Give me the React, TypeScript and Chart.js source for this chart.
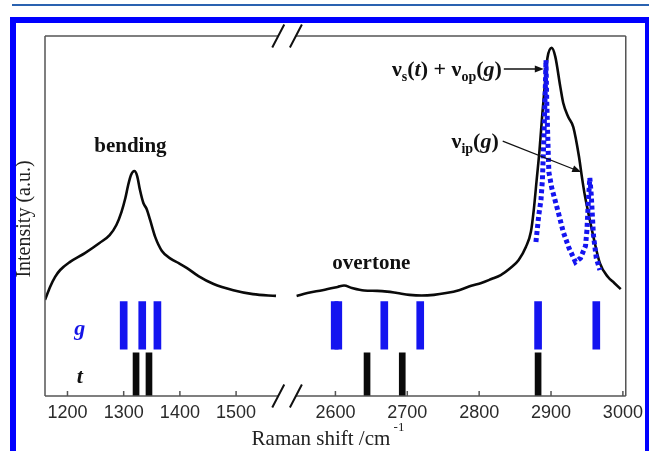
import React, { useEffect, useRef } from 'react';
import { Chart, registerables, LinearScale } from 'chart.js';

Chart.register(...registerables);

// ---------- axis definition (broken wavenumber axis) ----------
const X_MIN = 1160;
const X_MAX = 3004;
const BREAK_FROM = 1575;
const BREAK_TO = 2545;
const W_LEFT = 0.567; // relative px per cm-1, left segment
const W_GAP = 17.8; // relative width of the break
const W_RIGHT = 0.725; // relative px per cm-1, right segment
const X_TICKS = [1200, 1300, 1400, 1500, 2600, 2700, 2800, 2900, 3000];

// ---------- data ----------
// experimental spectrum, bending region
const bendWn = [1160, 1169, 1178, 1187, 1204, 1231, 1257, 1275, 1287, 1296, 1303, 1308, 1313, 1319, 1324, 1329, 1335, 1341, 1347, 1356, 1368, 1384, 1398, 1412, 1433, 1460, 1495, 1530, 1571];
const bendI = [26.7, 30.3, 33.1, 35.0, 37.2, 39.7, 42.5, 44.7, 47.5, 51.1, 55.0, 58.6, 61.4, 62.5, 61.1, 57.2, 53.6, 51.9, 48.9, 44.2, 40.3, 38.1, 36.9, 35.6, 33.3, 31.1, 29.4, 28.3, 27.8];
// experimental spectrum, overtone + CH stretching region
const stretchWn = [2546, 2561, 2582, 2603, 2612, 2623, 2640, 2658, 2672, 2686, 2703, 2720, 2737, 2754, 2772, 2789, 2803, 2817, 2830, 2844, 2855, 2865, 2872, 2876, 2880, 2884, 2888, 2892, 2895, 2901, 2906, 2913, 2917, 2924, 2931, 2939, 2943, 2947, 2952, 2959, 2968, 2979, 2988, 2997];
const stretchI = [27.8, 28.6, 29.4, 30.3, 30.7, 30.0, 29.3, 29.2, 29.0, 28.6, 28.1, 27.9, 28.1, 28.6, 29.4, 30.6, 31.4, 32.5, 33.6, 35.6, 37.8, 41.4, 45.6, 51.7, 60.0, 68.3, 78.6, 87.8, 93.9, 96.7, 94.2, 85.8, 81.4, 77.5, 74.7, 66.4, 60.8, 55.8, 50.8, 44.2, 36.9, 33.1, 31.4, 29.7];
// calculated spectrum (g conformer)
const calcWn = [2879, 2883, 2886, 2888, 2890, 2892, 2893, 2894, 2896, 2897, 2901, 2910, 2917, 2925, 2934, 2941, 2948, 2950, 2952, 2954, 2956, 2959, 2963, 2968];
const calcI = [42.8, 50.3, 54.4, 60.0, 71.1, 85.0, 93.3, 82.2, 68.3, 62.2, 57.8, 51.1, 45.6, 41.1, 37.2, 38.3, 41.7, 46.1, 54.4, 60.6, 55.8, 44.7, 38.3, 35.0];
// calculated mode positions
const gModes = [1300, 1333, 1360, 2599, 2604, 2668, 2718, 2882, 2963];
const tModes = [1322, 1345, 2644, 2693, 2882];
const G_SPAN: [number, number] = [13, 26.2];
const T_SPAN: [number, number] = [0, 12];

// ---------- custom broken linear scale ----------
function axisFraction(v: number): number {
  const wl = (BREAK_FROM - X_MIN) * W_LEFT;
  const wr = (X_MAX - BREAK_TO) * W_RIGHT;
  const tot = wl + W_GAP + wr;
  let p: number;
  if (v <= BREAK_FROM) p = (v - X_MIN) * W_LEFT;
  else if (v >= BREAK_TO) p = wl + W_GAP + (v - BREAK_TO) * W_RIGHT;
  else p = wl + ((v - BREAK_FROM) / (BREAK_TO - BREAK_FROM)) * W_GAP;
  return p / tot;
}

class BrokenAxis extends (LinearScale as any) {
  static id = 'brokenAxis';
  static defaults = { ...(LinearScale as any).defaults };
  buildTicks() {
    return X_TICKS.map((v) => ({ value: v }));
  }
  getPixelForValue(v: any) {
    if (v === null || v === undefined || isNaN(v)) return NaN;
    return (this as any).getPixelForDecimal(axisFraction(+v));
  }
  getValueForPixel(px: number) {
    const d = (this as any).getDecimalForPixel(px);
    let lo = X_MIN, hi = X_MAX;
    for (let i = 0; i < 40; i++) {
      const m = (lo + hi) / 2;
      if (axisFraction(m) < d) lo = m; else hi = m;
    }
    return (lo + hi) / 2;
  }
}
Chart.register(BrokenAxis as any);

const SERIF = "'Liberation Serif', 'Times New Roman', serif";
const SANS = "'Liberation Sans', Arial, sans-serif";

type Run = { t: string; f: string; dy?: number };
function drawRuns(ctx: CanvasRenderingContext2D, runs: Run[], x: number, y: number, align: 'left' | 'right' | 'center') {
  let total = 0;
  runs.forEach((r) => { ctx.font = r.f; total += ctx.measureText(r.t).width; });
  let cx = align === 'left' ? x : align === 'right' ? x - total : x - total / 2;
  ctx.textAlign = 'left';
  ctx.textBaseline = 'alphabetic';
  runs.forEach((r) => {
    ctx.font = r.f;
    ctx.fillText(r.t, cx, y + (r.dy || 0));
    cx += ctx.measureText(r.t).width;
  });
  return total;
}

function arrow(ctx: CanvasRenderingContext2D, x1: number, y1: number, x2: number, y2: number) {
  const ang = Math.atan2(y2 - y1, x2 - x1);
  const hl = 9, hw = 3.5;
  ctx.beginPath();
  ctx.moveTo(x1, y1);
  ctx.lineTo(x2 - Math.cos(ang) * hl * 0.8, y2 - Math.sin(ang) * hl * 0.8);
  ctx.stroke();
  ctx.beginPath();
  ctx.moveTo(x2, y2);
  ctx.lineTo(x2 - Math.cos(ang) * hl - Math.sin(ang) * hw, y2 - Math.sin(ang) * hl + Math.cos(ang) * hw);
  ctx.lineTo(x2 - Math.cos(ang) * hl + Math.sin(ang) * hw, y2 - Math.sin(ang) * hl - Math.cos(ang) * hw);
  ctx.closePath();
  ctx.fill();
}

const decorPlugin = {
  id: 'decor',
  afterDraw(chart: any) {
    const { ctx, chartArea: a, scales } = chart;
    const xs = scales.x, ys = scales.y;
    const gl = xs.getPixelForValue(BREAK_FROM);
    const gr = xs.getPixelForValue(BREAK_TO);
    ctx.save();
    // frame with break
    ctx.strokeStyle = '#555';
    ctx.lineWidth = 1.5;
    ctx.beginPath();
    [a.top, a.bottom].forEach((y: number) => {
      ctx.moveTo(a.left, y); ctx.lineTo(gl, y);
      ctx.moveTo(gr, y); ctx.lineTo(a.right, y);
    });
    ctx.moveTo(a.left, a.top); ctx.lineTo(a.left, a.bottom);
    ctx.moveTo(a.right, a.top); ctx.lineTo(a.right, a.bottom);
    ctx.stroke();
    // tick marks (inward)
    ctx.beginPath();
    xs.ticks.forEach((t: any) => {
      const px = xs.getPixelForValue(t.value);
      ctx.moveTo(px, a.bottom); ctx.lineTo(px, a.bottom - 5);
    });
    ctx.stroke();
    // break slashes
    ctx.strokeStyle = '#111';
    ctx.lineWidth = 2;
    ctx.beginPath();
    [a.top, a.bottom].forEach((y: number) => {
      [gl, gr].forEach((x: number) => {
        ctx.moveTo(x - 6, y + 11.5); ctx.lineTo(x + 6, y - 11.5);
      });
    });
    ctx.stroke();

    // axis titles
    ctx.fillStyle = '#222';
    ctx.save();
    ctx.translate(25, (a.top + a.bottom) / 2 + 3);
    ctx.rotate(-Math.PI / 2);
    ctx.font = `20px ${SERIF}`;
    ctx.textAlign = 'center';
    ctx.textBaseline = 'middle';
    ctx.fillText('Intensity (a.u.)', 0, 0);
    ctx.restore();
    drawRuns(ctx, [
      { t: 'Raman shift /cm', f: `21px ${SERIF}` },
      { t: ' -1', f: `13px ${SERIF}`, dy: -14 },
    ], 328, 445, 'center');

    // annotations
    ctx.fillStyle = '#111';
    ctx.font = `bold 21px ${SERIF}`;
    ctx.textAlign = 'center';
    ctx.textBaseline = 'middle';
    ctx.fillText('bending', xs.getPixelForValue(1312), ys.getPixelForValue(69.2));
    ctx.fillText('overtone', xs.getPixelForValue(2650), ys.getPixelForValue(36.9));

    const B = `bold 22px ${SERIF}`;
    const BI = `italic bold 22px ${SERIF}`;
    const SUB = `bold 14px ${SERIF}`;
    // nu_s(t) + nu_op(g)
    const y1 = ys.getPixelForValue(90.8);
    const x1end = xs.getPixelForValue(2890);
    drawRuns(ctx, [
      { t: 'ν', f: B }, { t: 's', f: SUB, dy: 5 }, { t: '(', f: B }, { t: 't', f: BI }, { t: ') + ', f: B },
      { t: 'ν', f: B }, { t: 'op', f: SUB, dy: 5 }, { t: '(', f: B }, { t: 'g', f: BI }, { t: ')', f: B },
    ], x1end - 42, y1 + 7, 'right');
    ctx.strokeStyle = '#111';
    ctx.lineWidth = 1.5;
    arrow(ctx, x1end - 40, y1, x1end, y1);
    // nu_ip(g)
    const y2 = ys.getPixelForValue(70.8);
    const x2 = xs.getPixelForValue(2830);
    drawRuns(ctx, [
      { t: 'ν', f: B }, { t: 'ip', f: SUB, dy: 5 }, { t: '(', f: B }, { t: 'g', f: BI }, { t: ')', f: B },
    ], x2 - 2, y2 + 7, 'right');
    ctx.lineWidth = 1.2;
    arrow(ctx, x2 + 2, y2, xs.getPixelForValue(2942), ys.getPixelForValue(62.2));

    // row labels
    ctx.font = `italic bold 22px ${SERIF}`;
    ctx.textAlign = 'center';
    ctx.textBaseline = 'middle';
    ctx.fillStyle = '#1414e6';
    ctx.fillText('g', xs.getPixelForValue(1222), ys.getPixelForValue(18.6));
    ctx.fillStyle = '#111';
    ctx.fillText('t', xs.getPixelForValue(1222), ys.getPixelForValue(5.3));
    ctx.restore();
  },
};

function pts(xs: number[], ys: number[]) {
  return xs.map((x, i) => ({ x, y: ys[i] }));
}

export default function App() {
  const ref = useRef<HTMLCanvasElement>(null);
  useEffect(() => {
    const spectrum = [...pts(bendWn, bendI), { x: 2000, y: null as any }, ...pts(stretchWn, stretchI)];
    const chart = new Chart(ref.current!, {
      type: 'line',
      data: {
        datasets: [
          {
            type: 'line',
            label: 'calc g',
            data: pts(calcWn, calcI),
            borderColor: '#1414f0',
            borderWidth: 5,
            borderDash: [4, 3],
            pointRadius: 0,
            tension: 0,
            fill: false,
          },
          {
            type: 'line',
            label: 'spectrum',
            data: spectrum,
            borderColor: '#0a0a0a',
            borderWidth: 2.6,
            pointRadius: 0,
            cubicInterpolationMode: 'monotone',
            spanGaps: false,
            fill: false,
          },
          {
            type: 'bar',
            label: 'g',
            data: gModes.map((x) => ({ x, y: G_SPAN })) as any,
            backgroundColor: '#1414f0',
            barThickness: 7,
            grouped: false,
          } as any,
          {
            type: 'bar',
            label: 't',
            data: tModes.map((x) => ({ x, y: T_SPAN })) as any,
            backgroundColor: '#0a0a0a',
            barThickness: 6,
            grouped: false,
          } as any,
        ],
      },
      options: {
        responsive: false,
        animation: false,
        devicePixelRatio: 1,
        layout: { padding: { left: 45, top: 36, right: 18, bottom: 0 } },
        plugins: { legend: { display: false }, tooltip: { enabled: false } },
        scales: {
          x: {
            type: 'brokenAxis' as any,
            min: X_MIN,
            max: X_MAX,
            grid: { display: false, drawTicks: false },
            border: { display: false },
            ticks: {
              autoSkip: false,
              maxRotation: 0,
              padding: 6,
              color: '#2a2a2a',
              font: { family: SANS, size: 18 },
              callback: (v: any) => String(v),
            },
            afterFit: (s: any) => { s.height = 55; },
          } as any,
          y: {
            type: 'linear',
            min: 0,
            max: 100,
            display: false,
          },
        },
      },
      plugins: [decorPlugin],
    });
    return () => chart.destroy();
  }, []);

  return (
    <div style={{ position: 'fixed', left: 0, top: 0, width: 649, height: 451, overflow: 'hidden', background: '#fff' }}>
      <div style={{ position: 'absolute', left: 12, top: 4, width: 637, height: 2, background: '#2a62b0' }} />
      <div style={{ position: 'absolute', left: 10, top: 17, width: 641, height: 500, border: '6px solid #0000ff', boxSizing: 'border-box', background: '#fff' }} />
      <canvas ref={ref} width={649} height={451} style={{ position: 'absolute', left: 0, top: 0, width: 649, height: 451 }} />
    </div>
  );
}
